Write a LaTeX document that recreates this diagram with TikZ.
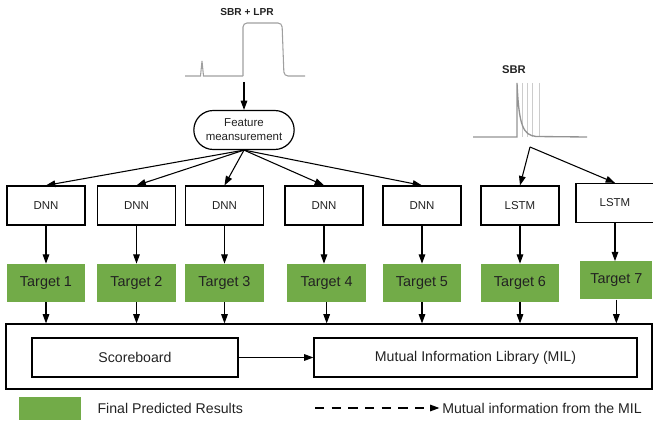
\documentclass[tikz,border=0pt]{standalone}
\usepackage{fontspec}
\setmainfont{Liberation Sans}
\usetikzlibrary{positioning}
\usetikzlibrary{arrows.meta}
\usetikzlibrary{shapes.misc}
\definecolor{targetgreen}{RGB}{114,171,72}
\definecolor{inktext}{RGB}{34,34,34}
\tikzstyle{link} = [draw, line width=0.8pt, -{Triangle[length=7pt,width=5pt]}]
\tikzstyle{model} = [rectangle, draw, black, line width=0.9pt, minimum width=58.5pt, minimum height=29.25pt, text=inktext, font=\fontsize{8.6}{10}\selectfont]
\tikzstyle{target} = [rectangle, fill=targetgreen, minimum width=59pt, minimum height=28.5pt, inner sep=0pt, text=inktext, font=\fontsize{10.8}{12}\selectfont]
\tikzstyle{stage} = [rectangle, draw, black, line width=0.9pt, minimum width=154.5pt, minimum height=29.25pt, text=inktext, font=\fontsize{10.6}{12}\selectfont]
\tikzstyle{board} = [rectangle, draw, black, line width=0.9pt, minimum width=484.5pt, minimum height=48.75pt]
\tikzstyle{feature} = [rounded rectangle, draw, black, line width=0.9pt, minimum width=77.25pt, minimum height=29.25pt, align=center, inner sep=1pt, text=inktext, font=\fontsize{8.6}{10.5}\selectfont]
\tikzstyle{legend} = [inner sep=0pt, text=inktext, font=\fontsize{10.6}{12}\selectfont]
\tikzstyle{tracelabel} = [inner sep=0pt, text=inktext, font=\fontsize{7.6}{9}\selectfont\bfseries]
\tikzstyle{trace} = [draw=gray!75, line width=0.8pt]

\begin{document}
\begin{tikzpicture}[x=0.75pt, y=-0.75pt, node distance=28.5pt, every edge/.style={link}]
  \useasboundingbox (0,0) rectangle (653,424);
  % input traces
  \node[tracelabel] (lprlabel) at (247,12) {SBR + LPR};
  \draw[trace] (185,76) -- (200.5,76) -- (202,61) -- (203.5,76) -- (243,76);
  \draw[trace, rounded corners=3pt] (243,76) -- (243,23) -- (282,23) -- (284,76) -- (305,76);
  \node[tracelabel, font=\fontsize{8.4}{10}\selectfont\bfseries] (sbrlabel) at (514,70) {SBR};
  \foreach \x in {522,527,532,539}
    \draw[draw=gray!40, line width=0.6pt] (\x,83) -- (\x,137);
  \draw[trace, draw=gray!85, line width=1pt] (473,137) -- (517,137) -- (517,83) .. controls (519,126) and (523,135) .. (536,136.5) -- (587,137);
  \coordinate (lpr) at (244,82);
  \coordinate (sbr) at (530,147);

  % models
  \node[feature] (feat) at (244,130) {Feature\\meansurement};
  \draw[link] (lpr) -- (feat);
  \node[model] (dnn1) at (46,205.5) {DNN};
  \node[model] (dnn2) at (136.5,205.5) {DNN};
  \node[model] (dnn3) at (224.5,205.5) {DNN};
  \node[model] (dnn4) at (324,205.5) {DNN};
  \node[model] (dnn5) at (422,205.5) {DNN};
  \node[model] (lstm6) at (520,205.5) {LSTM};
  \node[model] (lstm7) at (615,203) {LSTM};
  \foreach \m in {dnn1,dnn2,dnn3,dnn4,dnn5}
    \draw[link] (feat.south) -- (\m.north);
  \path (sbr) edge (lstm6.north) (sbr) edge (lstm7.north);

  % predictions
  \node[target] (t1) [below=of dnn1] {Target 1};
  \node[target] (t2) [below=of dnn2] {Target 2};
  \node[target] (t3) [below=of dnn3] {Target 3};
  \node[target] (t4) [below=of dnn4, xshift=2pt] {Target 4};
  \node[target] (t5) [below=of dnn5] {Target 5};
  \node[target] (t6) [below=of lstm6] {Target 6};
  \node[target] (t7) [below=of lstm7, xshift=1pt, minimum width=54pt] {Target 7};
  \path (dnn1) edge (t1) (dnn2) edge (t2) (dnn3) edge (t3) (dnn4.south) edge (dnn4.south |- t4.north)
    (dnn5) edge (t5) (lstm6) edge (t6) (lstm7.south) edge (lstm7.south |- t7.north);

  % scoreboard and library
  \node[board] (board) at (329,356.5) {};
  \node[stage] (score) at (135,357.5) {Scoreboard};
  \node[stage, minimum width=242.25pt] (mil) at (475.5,357.5) {Mutual Information Library (MIL)};
  \draw[link] (score) -- (mil);
  \foreach \t in {t1,t2,t3,t4,t5,t6,t7}
    \draw[link] (\t.south) -- (\t.south |- board.north);

  % legend
  \node[target, minimum width=46.5pt, minimum height=17.25pt] (key) at (50,408.5) {};
  \node[legend] (keytext) [right=12pt of key] {Final Predicted Results};
  \coordinate (dashstart) at (315,408);
  \node[legend, anchor=west] (mitext) at (442,408) {Mutual information from the MIL};
  \draw[link, dash pattern=on 7pt off 5.5pt, shorten >=2pt] (dashstart) -- (mitext.west);
\end{tikzpicture}
\end{document}
